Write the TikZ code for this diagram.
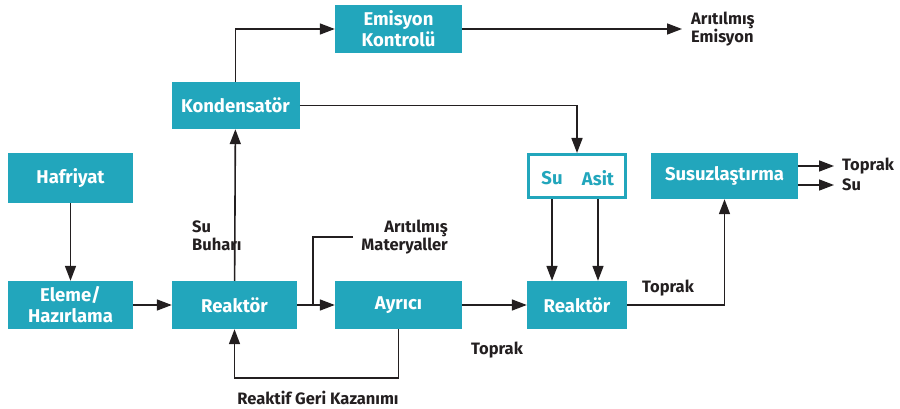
\documentclass[tikz,border=0pt]{standalone}
\usepackage{fontspec}
\setmainfont{Fira Sans}
\usetikzlibrary{arrows.meta}
\definecolor{teal1}{HTML}{22A6BC}
\definecolor{ink}{HTML}{231F20}
\tikzset{
  box/.style={fill=teal1, text=white, font=\fontsize{18.5}{21}\selectfont\bfseries, align=center, inner sep=0pt, anchor=center},
  lbl/.style={text=ink, font=\fontsize{16.5}{18}\selectfont\bfseries, align=left, inner sep=0pt},
  conn/.style={draw=ink, line width=1.6pt, -{Triangle[length=15pt,width=11pt]}},
  plain/.style={draw=ink, line width=1.6pt},
}
\begin{document}
\begin{tikzpicture}[x=1pt,y=-1pt]
\useasboundingbox (0,0) rectangle (900,409);
\node[box, minimum width=125pt, minimum height=50pt] (haf) at (70.5,178) {Hafriyat};
\node[box, minimum width=125pt, minimum height=48pt] (ele) at (70.5,305) {Eleme/\\Hazırlama};
\node[box, minimum width=125pt, minimum height=48pt] (rea1) at (234.5,305) {Reaktör};
\node[box, minimum width=127pt, minimum height=48pt] (ayr) at (398.5,305) {Ayrıcı};
\node[box, minimum width=100pt, minimum height=48pt] (rea2) at (577,305) {Reaktör};
\node[box, minimum width=128pt, minimum height=47pt] (kon) at (235.5,105.5) {Kondensatör};
\node[box, minimum width=127pt, minimum height=48pt] (emi) at (398.5,29) {Emisyon\\Kontrolü};
\node[box, minimum width=147pt, minimum height=46pt] (sus) at (724.5,176) {Susuzlaştırma};
\node[draw=teal1, line width=3pt, fill=white, minimum width=97pt, minimum height=43pt, inner sep=0pt] (sa) at (577,176) {};
\node[text=teal1, font=\fontsize{18.5}{21}\selectfont\bfseries, inner sep=0pt] (su) at (552,178) {Su};
\node[text=teal1, font=\fontsize{18.5}{21}\selectfont\bfseries, inner sep=0pt] (asit) at (598,178) {Asit};
% labels
\node[lbl, anchor=west] (aem) at (691,29) {Arıtılmış\\Emisyon};
\coordinate (aemend) at (682,29);
\node[lbl, anchor=west] (subu) at (192,236) {Su\\Buharı};
\node[lbl, align=right, anchor=east] (amat) at (448,237) {Arıtılmış\\Materyaller};
\coordinate (amatstart) at (353,237);
\coordinate (amatturn) at (313,237);
\coordinate (amatjoin) at (313,305);
\node[lbl] (top1) at (497,350) {Toprak};
\node[lbl] (top2) at (668,288) {Toprak};
\node[lbl] (rgk) at (318,398) {Reaktif Geri Kazanımı};
\node[lbl, anchor=west] (top3) at (842,166) {Toprak};
\node[lbl, anchor=west] (su3) at (842,185) {Su};
\coordinate (t3end) at (834,166);
\coordinate (s3end) at (834,185);
% connectors
\draw[conn] (haf) -- (ele);
\draw[conn] (ele) -- (rea1);
\draw[conn] (rea1) -- (kon);
\draw[conn] (kon.north) |- (emi.west);
\draw[conn] (emi) -- (aemend);
\draw[conn] (kon.east) -| (sa.north);
\draw[conn] (rea1) -- (ayr);
\draw[plain] (amatstart) -- (amatturn) -- (amatjoin);
\draw[conn] (ayr.south) -- ++(0,49) -| (rea1.south);
\draw[conn] (ayr) -- (rea2);
\draw[conn] (su.south |- sa.south) -- (su.south |- rea2.north);
\draw[conn] (asit.south |- sa.south) -- (asit.south |- rea2.north);
\draw[conn] (rea2.east) -| (sus.south);
\draw[conn] (sus.east |- t3end) -- (t3end);
\draw[conn] (sus.east |- s3end) -- (s3end);
\end{tikzpicture}
\end{document}
